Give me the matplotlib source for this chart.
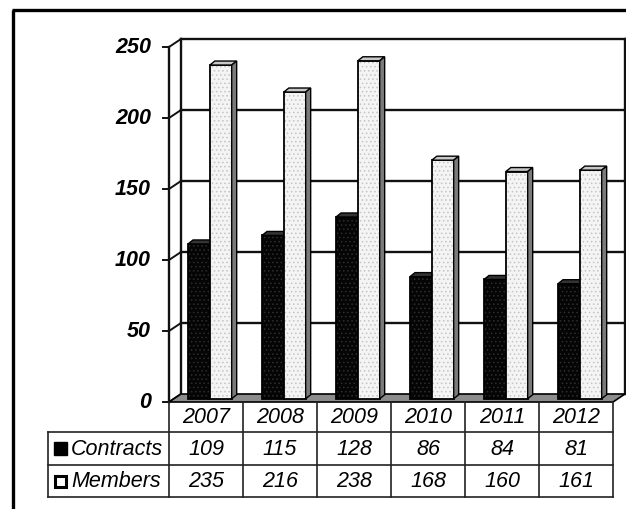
import matplotlib
matplotlib.use("Agg")
import matplotlib.pyplot as plt
from matplotlib.patches import Polygon, Rectangle

years = ["2007", "2008", "2009", "2010", "2011", "2012"]
contracts = [109, 115, 128, 86, 84, 81]
members = [235, 216, 238, 168, 160, 161]
series_names = ["Contracts", "Members"]
yticks = [0, 50, 100, 150, 200, 250]

W, H = 626, 510
fig = plt.figure(figsize=(W / 100, H / 100), dpi=100)
ax = fig.add_axes([0, 0, 1, 1])
ax.axis("off")

# pixel -> data helpers (layout only)
X0, CW = 169.0, 74.0
Y0, S = 403.0, 1.42
def xd(px): return (px - X0) / CW
def yd(py): return (Y0 - py) / S

ax.set_xlim(xd(0), xd(W))
ax.set_ylim(yd(H), yd(0))

n = len(years)
dxw, dyw = 12 / CW, 8 / S     # wall depth
ymax = yticks[-1]
FONT = ["Liberation Sans", "DejaVu Sans"]

# outer frame
ax.plot([xd(13), xd(13)], [yd(H), yd(11)], color="black", lw=2.4, solid_capstyle="butt")
ax.plot([xd(12), xd(W)], [yd(11), yd(11)], color="black", lw=2.4, solid_capstyle="butt")

# floor
ax.add_patch(Polygon([(0, 0), (n, 0), (n + dxw, dyw), (dxw, dyw)],
                     closed=True, facecolor="#8c8c8c", edgecolor="black", lw=1.2, zorder=2))
# back wall & gridlines
lc = "#111111"
for v in yticks[1:]:
    ax.plot([dxw, n + dxw], [v + dyw, v + dyw], color=lc, lw=1.7, zorder=1)
for v in yticks:
    ax.plot([0, dxw], [v, v + dyw], color=lc, lw=1.4, zorder=1)
    ax.plot([-6 / CW, 0], [v, v], color=lc, lw=1.4, zorder=1)
    ax.text(xd(151), v, str(v), ha="right", va="center", fontsize=15.5,
            fontweight="bold", fontstyle="italic", family=FONT)
ax.plot([0, 0], [0, ymax], color=lc, lw=1.7, zorder=1)
ax.plot([dxw, dxw], [dyw, ymax + dyw], color=lc, lw=1.7, zorder=1)
ax.plot([n + dxw, n + dxw], [dyw, ymax + dyw], color=lc, lw=1.7, zorder=1)

# bars
b0 = 2.3
bw = 0.295
off_c = 0.257
bdx, bdy = 5 / CW, 4 / S
plt.rcParams["hatch.linewidth"] = 0.6

def draw_bar(xl, val, face, hatchc, topc, sidec, z):
    ax.bar(xl, val, width=bw, bottom=b0, align="edge", color=face,
           edgecolor=hatchc, hatch="....", lw=0, zorder=z)
    ax.bar(xl, val, width=bw, bottom=b0, align="edge", fill=False,
           edgecolor="black", lw=1.3, zorder=z + 0.1)
    top = b0 + val
    ax.add_patch(Polygon([(xl, top), (xl + bw, top), (xl + bw + bdx, top + bdy), (xl + bdx, top + bdy)],
                         closed=True, facecolor=topc, edgecolor="black", lw=1.0, zorder=z + 0.1))
    ax.add_patch(Polygon([(xl + bw, b0), (xl + bw + bdx, b0 + bdy), (xl + bw + bdx, top + bdy), (xl + bw, top)],
                         closed=True, facecolor=sidec, edgecolor="black", lw=1.0, zorder=z + 0.1))

for i in range(n):
    draw_bar(i + off_c, contracts[i], "#050505", "#2e2e2e", "#333333", "#222222", 3)
    draw_bar(i + off_c + bw, members[i], "#f4f4f4", "#c4c4c4", "#c8c8c8", "#7a7a7a", 4)

# data table
tc = "#222222"
r1, r2, r3 = yd(433), yd(466), yd(498)
xl_tab = xd(48)
for y in (r1, r2, r3):
    ax.plot([xl_tab, n], [y, y], color=tc, lw=1.2, zorder=5)
ax.plot([xl_tab, xl_tab], [r1, r3], color=tc, lw=1.2, zorder=5)
for i in range(n + 1):
    ax.plot([i, i], [0, r3], color=tc, lw=1.2, zorder=5)

tkw = dict(fontsize=15.5, fontstyle="italic", family=FONT, va="center", zorder=6)
for i in range(n):
    ax.text(i + 0.5, (0 + r1) / 2, years[i], ha="center", **tkw)
    ax.text(i + 0.5, (r1 + r2) / 2, str(contracts[i]), ha="center", **tkw)
    ax.text(i + 0.5, (r2 + r3) / 2, str(members[i]), ha="center", **tkw)

ax.text(xd(71), (r1 + r2) / 2, series_names[0], ha="left", **tkw)
ax.text(xd(71), (r2 + r3) / 2, series_names[1], ha="left", **tkw)
ks = 13
ax.add_patch(Rectangle((xd(54), (r1 + r2) / 2 - ks / 2 / S), ks / CW, ks / S,
                       facecolor="black", edgecolor="black", lw=1, zorder=6))
ax.add_patch(Rectangle((xd(55), (r2 + r3) / 2 - (ks - 2) / 2 / S), (ks - 2) / CW, (ks - 2) / S,
                       facecolor="white", edgecolor="black", lw=2.2, zorder=6))

fig.savefig("out.png", dpi=100)
